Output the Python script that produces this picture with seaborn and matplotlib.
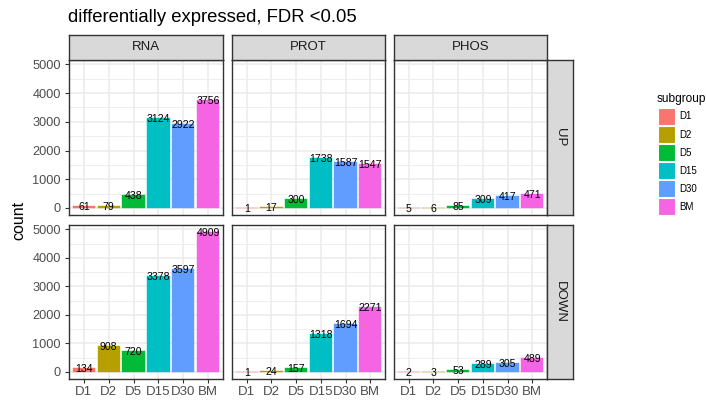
import matplotlib
matplotlib.use("Agg")
import matplotlib.pyplot as plt
from matplotlib.patches import Rectangle
import seaborn as sns
import pandas as pd

# --- data -------------------------------------------------------------
subgroups = ["D1", "D2", "D5", "D15", "D30", "BM"]
omics = ["RNA", "PROT", "PHOS"]
directions = ["UP", "DOWN"]

rna_up = [61, 79, 438, 3124, 2922, 3756]
prot_up = [1, 17, 300, 1738, 1587, 1547]
phos_up = [5, 6, 85, 309, 417, 471]
rna_down = [134, 908, 720, 3378, 3597, 4909]
prot_down = [1, 24, 157, 1318, 1694, 2271]
phos_down = [2, 3, 53, 289, 305, 489]

palette = ["#F8766D", "#B79F00", "#00BA38", "#00BFC4", "#619CFF", "#F564E3"]

series = {
    "UP": [rna_up, prot_up, phos_up],
    "DOWN": [rna_down, prot_down, phos_down],
}
rows = []
for direction in directions:
    for omic, vals in zip(omics, series[direction]):
        for sg, v in zip(subgroups, vals):
            rows.append(dict(direction=direction, omic=omic, subgroup=sg, count=v))
df = pd.DataFrame(rows)

# --- styling ----------------------------------------------------------
sns.set_style("white")
plt.rcParams["font.family"] = ["Liberation Sans", "DejaVu Sans"]

W, H = 706, 404
fig = plt.figure(figsize=(W / 100, H / 100), dpi=100)


def box(x0, y0, x1, y1):
    return [x0 / W, 1 - y1 / H, (x1 - x0) / W, (y1 - y0) / H]


col_x = [(69, 223), (232, 385), (394, 547)]
row_y = [(60, 215), (225, 379)]
border = "#333333"
grid_col = "#EBEBEB"
tick_txt = "#4D4D4D"

ymax = df["count"].max()
pad = 0.05 * ymax
ylim = (-pad, ymax + pad)


def style_strip(ax):
    ax.set_facecolor("#D9D9D9")
    ax.set_xticks([])
    ax.set_yticks([])
    for s in ax.spines.values():
        s.set_color(border)
        s.set_linewidth(1.0)
        s.set_visible(True)


for r, direction in enumerate(directions):
    for c, omic in enumerate(omics):
        x0, x1 = col_x[c]
        y0, y1 = row_y[r]
        ax = fig.add_axes(box(x0, y0, x1, y1))
        sub = df[(df.direction == direction) & (df.omic == omic)]
        sns.barplot(data=sub, x="subgroup", y="count", hue="subgroup",
                    order=subgroups, hue_order=subgroups, palette=palette,
                    width=0.9, legend=False, errorbar=None, ax=ax,
                    linewidth=0.3, saturation=1)
        for patch in ax.patches:
            patch.set_edgecolor(patch.get_facecolor())
        for i, v in enumerate(sub["count"]):
            ax.text(i, v, str(v), ha="center", va="center_baseline",
                    fontsize=7.6, color="black", zorder=5)

        ax.set_xlim(-0.6, len(subgroups) - 0.4)
        ax.set_ylim(*ylim)
        ax.set_yticks(range(0, 5001, 1000))
        ax.set_yticks(range(500, 5000, 1000), minor=True)
        ax.set_axisbelow(True)
        ax.grid(True, which="major", axis="both", color=grid_col, lw=1.1)
        ax.grid(True, which="minor", axis="y", color=grid_col, lw=0.6)
        ax.set_xlabel("")
        ax.set_ylabel("")
        for s in ax.spines.values():
            s.set_color(border)
            s.set_linewidth(1.0)
            s.set_visible(True)

        ax.tick_params(which="minor", length=0)
        if c == 0:
            ax.tick_params(axis="y", which="major", length=2.9, width=0.8,
                           color=border, pad=2.9, labelsize=9.2,
                           labelcolor=tick_txt, left=True)
        else:
            ax.tick_params(axis="y", which="major", left=False, labelleft=False)
        if r == len(directions) - 1:
            ax.tick_params(axis="x", which="major", length=2.9, width=0.8,
                           color=border, pad=2.4, labelsize=9.5,
                           labelcolor=tick_txt, bottom=True)
        else:
            ax.tick_params(axis="x", which="major", bottom=False, labelbottom=False)

        # column strips on top
        if r == 0:
            sax = fig.add_axes(box(x0, 35, x1, 60))
            style_strip(sax)
            sax.text(0.5, 0.5, omic, ha="center", va="center",
                     fontsize=9.5, color="#1A1A1A", transform=sax.transAxes)
    # row strips on the right
    y0, y1 = row_y[r]
    rax = fig.add_axes(box(547, y0, 573, y1))
    style_strip(rax)
    rax.text(0.5, 0.5, direction, ha="center", va="center", rotation=-90,
             fontsize=9.5, color="#1A1A1A", transform=rax.transAxes)

# titles
fig.text(68 / W, 1 - 18 / H, "differentially expressed, FDR <0.05",
         fontsize=13.3, ha="left", va="center", color="black")
fig.text(19 / W, 1 - 220 / H, "count", rotation=90, fontsize=11.5,
         ha="center", va="center", color="black")

# legend
fig.text(657 / W, 1 - 99 / H, "subgroup", fontsize=8.6, ha="left",
         va="center", color="black")
for i, (sg, col) in enumerate(zip(subgroups, palette)):
    top = 108 + 18 * i
    fig.patches.append(Rectangle((658 / W, 1 - (top + 17) / H), 17 / W, 17 / H,
                                 transform=fig.transFigure, facecolor=col,
                                 edgecolor="white", lw=0.8))
    fig.text(679 / W, 1 - (top + 8.5) / H, sg, fontsize=7.0, ha="left",
             va="center", color="black")

fig.savefig("out.png", dpi=100)
